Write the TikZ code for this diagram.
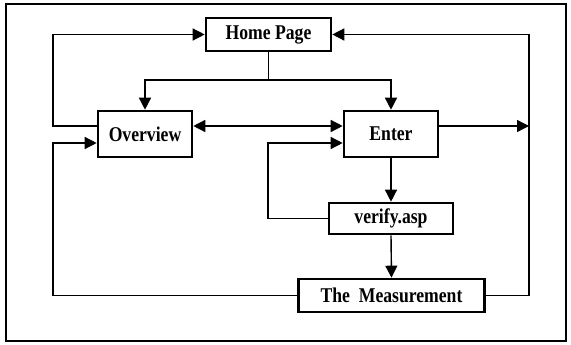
\documentclass[tikz,border=0pt]{standalone}
\usepackage{fontspec}
\setmainfont{Liberation Serif}[FakeStretch=0.84]
\usetikzlibrary{arrows.meta}
\begin{document}
\begin{tikzpicture}[x=1pt,y=-1pt,
  box/.style={draw,line width=2.6pt,inner sep=0pt,font=\fontsize{21}{21}\selectfont\bfseries},
  conn/.style={line width=1.4pt},
  arr/.style={conn,-{Triangle[length=12pt,width=12pt]}},
  darr/.style={conn,{Triangle[length=12pt,width=12pt]}-{Triangle[length=12pt,width=12pt]}}]
\useasboundingbox (0,0) rectangle (571,345);
\draw[line width=2.4pt] (6,4) rectangle (566,341);
\node[box,minimum width=125pt,minimum height=33pt] (home) at (268.5,34.5) {Home Page};
\node[box,minimum width=94pt,minimum height=46pt] (ov) at (145,134) {Overview};
\node[box,minimum width=94pt,minimum height=46pt] (en) at (391,134) {Enter};
\node[box,minimum width=124pt,minimum height=31pt] (vf) at (391,218.5) {verify.asp};
\node[box,minimum width=186pt,minimum height=33pt] (ms) at (391.5,295.5) {The\ \ Measurement};
\coordinate (split) at (268.5,80);
\coordinate (rx) at (529,0);
\coordinate (lx) at (53,0);
\coordinate (mx) at (268,0);
\coordinate (ovE) at ([yshift=8pt]ov.east);
\coordinate (ovW) at ([yshift=8pt]ov.west);
\coordinate (ovWl) at ([yshift=-9pt]ov.west);
\coordinate (enW) at ([yshift=8pt]en.west);
\coordinate (enWl) at ([yshift=-9pt]en.west);
\coordinate (enE) at ([yshift=8pt]en.east);
% home to overview / enter
\draw[conn] (home.south) -- (split);
\draw[arr] (split) -| (ov.north);
\draw[arr] (split) -| (en.north);
% overview <-> enter
\draw[darr] (ovE) -- (enW);
% overview back to home
\draw[arr] (ovW) -| (lx |- home.west) -- (home.west);
% enter to right line
\draw[arr] (enE) -- (rx |- enE);
% measurement right back to home
\draw[arr] (ms.east) -| (rx |- home.east) -- (home.east);
% measurement left to overview
\draw[arr] (ms.west) -| (lx |- ovWl) -- (ovWl);
% verify loop to enter
\draw[arr] (vf.west) -| (mx |- enWl) -- (enWl);
% enter down
\draw[arr] (en.south) -- (vf.north);
\draw[arr] (vf.south) -- (ms.north);
\end{tikzpicture}
\end{document}
